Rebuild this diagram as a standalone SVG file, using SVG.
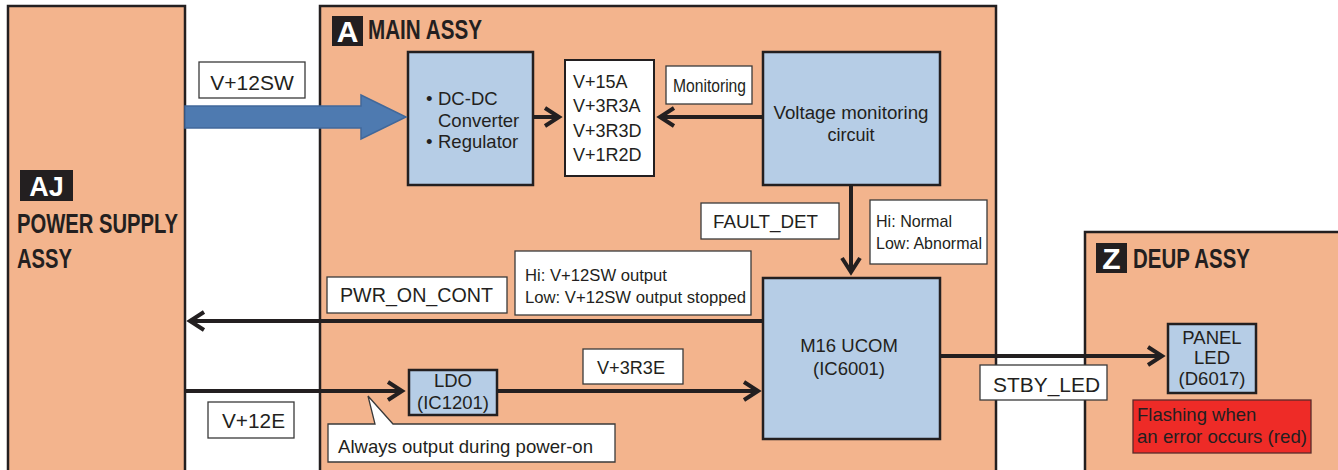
<svg xmlns="http://www.w3.org/2000/svg" width="1338" height="470" viewBox="0 0 1338 470">
<style>
.asm{fill:#F3B48D;stroke:#231F20;stroke-width:2.5}
.blk{fill:#B6CDE6;stroke:#231F20;stroke-width:2.5}
.lbl{fill:#FFFFFF;stroke:#3A3A3A;stroke-width:1.3}
.red{fill:#EE2B27;stroke:#5A2A2A;stroke-width:1.3}
.tag{fill:#231F20}
.t{font-family:"Liberation Sans",Arial,sans-serif;fill:#231F20}
.h{font-family:"Liberation Sans Narrow","Liberation Sans",Arial,sans-serif;font-weight:bold;font-size:27px;fill:#231F20}
.w{font-family:"Liberation Sans",Arial,sans-serif;font-weight:bold;fill:#FFFFFF}
.c{text-anchor:middle}
.ln{fill:none;stroke:#231F20;stroke-width:4}
</style>
<defs>
<marker id="ah" markerUnits="userSpaceOnUse" markerWidth="24" markerHeight="24" viewBox="0 0 24 24" refX="16" refY="12" orient="auto">
<path d="M2,3 L16,12 L2,21" fill="none" stroke="#231F20" stroke-width="4" stroke-miterlimit="10"/>
</marker>
</defs>
<rect width="1338" height="470" fill="#FFFFFF"/>

<g id="aj">
<rect class="asm" x="8" y="6" width="177" height="480"/>
<rect class="tag" x="20" y="170" width="53" height="31"/>
<text class="w c" x="46.5" y="196" font-size="27">AJ</text>
<text class="h" x="17" y="233" textLength="161" lengthAdjust="spacingAndGlyphs">POWER SUPPLY</text>
<text class="h" x="17" y="268" textLength="55" lengthAdjust="spacingAndGlyphs">ASSY</text>
</g>

<g id="main">
<rect class="asm" x="320" y="6" width="676" height="480"/>
<rect class="tag" x="332" y="16" width="31" height="30"/>
<text class="w c" x="347.5" y="42" font-size="30">A</text>
<text class="h" x="368" y="39" textLength="114" lengthAdjust="spacingAndGlyphs">MAIN ASSY</text>
</g>

<g id="deup">
<rect class="asm" x="1085" y="232" width="270" height="260"/>
<rect class="tag" x="1096" y="243" width="31" height="30"/>
<text class="w c" x="1111.5" y="269" font-size="30">Z</text>
<text class="h" x="1133" y="268" textLength="117" lengthAdjust="spacingAndGlyphs">DEUP ASSY</text>
</g>

<g id="v12sw-label">
<rect class="lbl" x="199" y="62" width="106" height="36"/>
<text class="t c" x="252" y="90" font-size="21">V+12SW</text>
</g>

<g id="dcdc">
<rect class="blk" x="408" y="52" width="125" height="133"/>
<text class="t" x="426" y="105" font-size="18.5">•</text>
<text class="t" x="438" y="105" font-size="18.5">DC-DC</text>
<text class="t" x="438" y="127" font-size="18.5">Converter</text>
<text class="t" x="426" y="148" font-size="18.5">•</text>
<text class="t" x="438" y="148" font-size="18.5">Regulator</text>
</g>

<g id="vlist">
<rect fill="#FFFFFF" stroke="#231F20" stroke-width="2" x="565" y="60" width="89" height="116"/>
<text class="t" x="573" y="88" font-size="18">V+15A</text>
<text class="t" x="573" y="112" font-size="18">V+3R3A</text>
<text class="t" x="573" y="136.5" font-size="18">V+3R3D</text>
<text class="t" x="573" y="160.5" font-size="18">V+1R2D</text>
</g>

<g id="monitoring-label">
<rect class="lbl" x="666" y="66" width="86" height="38"/>
<text class="t" x="673" y="92" font-size="17.5" textLength="73" lengthAdjust="spacingAndGlyphs">Monitoring</text>
</g>

<g id="vmon">
<rect class="blk" x="763" y="52" width="177" height="133"/>
<text class="t c" x="851" y="119" font-size="18" textLength="155" lengthAdjust="spacingAndGlyphs">Voltage monitoring</text>
<text class="t c" x="851" y="141" font-size="18">circuit</text>
</g>

<g id="fault-label">
<rect class="lbl" x="701" y="203" width="138" height="36"/>
<text class="t" x="713" y="228" font-size="18.5" textLength="105" lengthAdjust="spacingAndGlyphs">FAULT_DET</text>
</g>

<g id="hinormal-label">
<rect class="lbl" x="870" y="200" width="117" height="64"/>
<text class="t" x="876" y="227" font-size="17" textLength="76" lengthAdjust="spacingAndGlyphs">Hi: Normal</text>
<text class="t" x="876" y="249" font-size="17" textLength="106" lengthAdjust="spacingAndGlyphs">Low: Abnormal</text>
</g>

<g id="pwr-label">
<rect class="lbl" x="327" y="277" width="180" height="36"/>
<text class="t" x="340" y="302" font-size="19.5" textLength="153" lengthAdjust="spacingAndGlyphs">PWR_ON_CONT</text>
</g>

<g id="hilow-label">
<rect class="lbl" x="515" y="251" width="236" height="64"/>
<text class="t" x="525" y="281" font-size="16.7" textLength="142" lengthAdjust="spacingAndGlyphs">Hi: V+12SW output</text>
<text class="t" x="525" y="303" font-size="16.7" textLength="221" lengthAdjust="spacingAndGlyphs">Low: V+12SW output stopped</text>
</g>

<g id="m16">
<rect class="blk" x="763" y="278" width="177" height="161"/>
<text class="t c" x="849" y="352" font-size="18.5">M16 UCOM</text>
<text class="t c" x="849" y="375" font-size="18.5">(IC6001)</text>
</g>

<g id="v3r3e-label">
<rect class="lbl" x="583" y="349" width="100" height="35"/>
<text class="t" x="597" y="374" font-size="18" textLength="68" lengthAdjust="spacingAndGlyphs">V+3R3E</text>
</g>

<g id="ldo">
<rect class="blk" x="409" y="370" width="88" height="45"/>
<text class="t c" x="453" y="387" font-size="18.5">LDO</text>
<text class="t c" x="453" y="409" font-size="18.5">(IC1201)</text>
</g>

<g id="v12e-label">
<rect class="lbl" x="208" y="402" width="86" height="36"/>
<text class="t" x="222" y="428" font-size="20" textLength="63" lengthAdjust="spacingAndGlyphs">V+12E</text>
</g>

<g id="callout">
<path class="lbl" d="M328,424 L375,424 L368,396 L393,424 L615,424 L615,462 L328,462 Z"/>
<text class="t" x="338" y="453" font-size="18.5" textLength="255" lengthAdjust="spacingAndGlyphs">Always output during power-on</text>
</g>

<g id="stby-label">
<rect class="lbl" x="980" y="365" width="127" height="35"/>
<text class="t" x="993" y="392" font-size="20" textLength="107" lengthAdjust="spacingAndGlyphs">STBY_LED</text>
</g>

<g id="panel">
<rect class="blk" x="1168" y="324" width="88" height="69"/>
<text class="t c" x="1212" y="344" font-size="18.5">PANEL</text>
<text class="t c" x="1212" y="364" font-size="18.5">LED</text>
<text class="t c" x="1212" y="385" font-size="18.5">(D6017)</text>
</g>

<g id="error-note">
<rect class="red" x="1133" y="400" width="178" height="53"/>
<text class="t" x="1137" y="421" font-size="18.5">Flashing when</text>
<text class="t" x="1137" y="443" font-size="18.5" textLength="170" lengthAdjust="spacingAndGlyphs">an error occurs (red)</text>
</g>

<g id="connectors">
<polygon points="185,106 361,106 361,95 406,117 361,139 361,128 185,128" fill="#4E7AB0" stroke="#41689A" stroke-width="1.5"/>
<line class="ln" x1="533" y1="117" x2="559" y2="117" marker-end="url(#ah)"/>
<line class="ln" x1="763" y1="117" x2="660" y2="117" marker-end="url(#ah)"/>
<line class="ln" x1="851" y1="185" x2="851" y2="272" marker-end="url(#ah)"/>
<line class="ln" x1="763" y1="321" x2="190" y2="321" marker-end="url(#ah)"/>
<line class="ln" x1="185" y1="391" x2="402" y2="391" marker-end="url(#ah)"/>
<line class="ln" x1="497" y1="391" x2="758" y2="391" marker-end="url(#ah)"/>
<line class="ln" x1="940" y1="356" x2="1162" y2="356" marker-end="url(#ah)"/>
</g>
</svg>
